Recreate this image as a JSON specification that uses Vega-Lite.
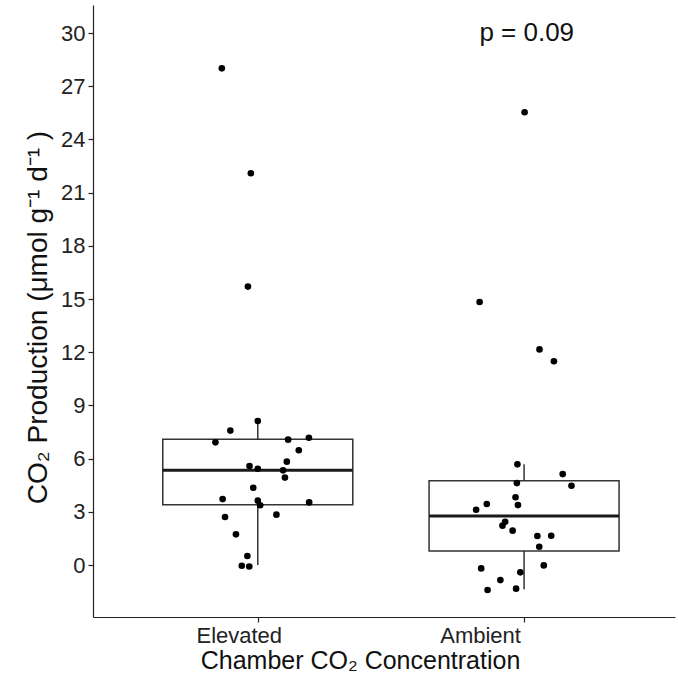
{
  "$schema": "https://vega.github.io/schema/vega-lite/v6.json",
  "width": 582,
  "height": 612,
  "autosize": "none",
  "padding": {"left": 93, "top": 5, "right": 3, "bottom": 61},
  "background": "white",
  "config": {
    "view": {"stroke": null},
    "font": "Liberation Sans",
    "axis": {
      "grid": false,
      "domainColor": "#222222",
      "domainWidth": 1.2,
      "tickColor": "#222222",
      "tickWidth": 1.2,
      "tickSize": 5,
      "labelColor": "#222222",
      "labelFont": "Liberation Sans",
      "labelFontSize": 22,
      "labelPadding": 3,
      "titleFont": "Liberation Sans",
      "titleFontSize": 25,
      "titleFontWeight": "normal",
      "titleColor": "#111111"
    }
  },
  "datasets": {
    "boxes": [
      {"group": "Elevated", "gx": 1, "lower": 0.0, "q1": 3.40, "median": 5.34, "q3": 7.10, "upper": 8.14},
      {"group": "Ambient", "gx": 2, "lower": -1.37, "q1": 0.79, "median": 2.76, "q3": 4.76, "upper": 5.68}
    ],
    "points": [
      {"group": "Elevated", "xj": 0.865, "co2": 28.01},
      {"group": "Elevated", "xj": 0.974, "co2": 22.09},
      {"group": "Elevated", "xj": 0.963, "co2": 15.70},
      {"group": "Elevated", "xj": 1.000, "co2": 8.12},
      {"group": "Elevated", "xj": 0.897, "co2": 7.58},
      {"group": "Elevated", "xj": 0.841, "co2": 6.92},
      {"group": "Elevated", "xj": 1.114, "co2": 7.07},
      {"group": "Elevated", "xj": 1.192, "co2": 7.18},
      {"group": "Elevated", "xj": 1.154, "co2": 6.47},
      {"group": "Elevated", "xj": 1.109, "co2": 5.83},
      {"group": "Elevated", "xj": 0.969, "co2": 5.58},
      {"group": "Elevated", "xj": 1.000, "co2": 5.43},
      {"group": "Elevated", "xj": 1.095, "co2": 5.34},
      {"group": "Elevated", "xj": 1.102, "co2": 4.93},
      {"group": "Elevated", "xj": 0.983, "co2": 4.36},
      {"group": "Elevated", "xj": 0.868, "co2": 3.72},
      {"group": "Elevated", "xj": 1.000, "co2": 3.63},
      {"group": "Elevated", "xj": 1.009, "co2": 3.37},
      {"group": "Elevated", "xj": 1.193, "co2": 3.53},
      {"group": "Elevated", "xj": 0.877, "co2": 2.71},
      {"group": "Elevated", "xj": 1.070, "co2": 2.84},
      {"group": "Elevated", "xj": 0.918, "co2": 1.73},
      {"group": "Elevated", "xj": 0.961, "co2": 0.51},
      {"group": "Elevated", "xj": 0.940, "co2": -0.04},
      {"group": "Elevated", "xj": 0.968, "co2": -0.08},
      {"group": "Ambient", "xj": 2.002, "co2": 25.53},
      {"group": "Ambient", "xj": 1.833, "co2": 14.83},
      {"group": "Ambient", "xj": 2.058, "co2": 12.16},
      {"group": "Ambient", "xj": 2.112, "co2": 11.49},
      {"group": "Ambient", "xj": 1.975, "co2": 5.68},
      {"group": "Ambient", "xj": 2.145, "co2": 5.13},
      {"group": "Ambient", "xj": 2.178, "co2": 4.47},
      {"group": "Ambient", "xj": 1.973, "co2": 4.62},
      {"group": "Ambient", "xj": 1.968, "co2": 3.82},
      {"group": "Ambient", "xj": 1.977, "co2": 3.38},
      {"group": "Ambient", "xj": 1.860, "co2": 3.44},
      {"group": "Ambient", "xj": 1.820, "co2": 3.12},
      {"group": "Ambient", "xj": 1.929, "co2": 2.44},
      {"group": "Ambient", "xj": 1.919, "co2": 2.22},
      {"group": "Ambient", "xj": 1.957, "co2": 1.94},
      {"group": "Ambient", "xj": 2.050, "co2": 1.64},
      {"group": "Ambient", "xj": 2.102, "co2": 1.65},
      {"group": "Ambient", "xj": 2.057, "co2": 1.03},
      {"group": "Ambient", "xj": 2.074, "co2": -0.02},
      {"group": "Ambient", "xj": 1.839, "co2": -0.19},
      {"group": "Ambient", "xj": 1.986, "co2": -0.41},
      {"group": "Ambient", "xj": 1.911, "co2": -0.85},
      {"group": "Ambient", "xj": 1.863, "co2": -1.41},
      {"group": "Ambient", "xj": 1.970, "co2": -1.33}
    ],
    "annot": [
      {"gx": 2.01, "y": 30, "label": "p = 0.09"}
    ]
  },
  "layer": [
    {
      "data": {"name": "boxes"},
      "mark": {"type": "rule", "color": "#333333", "strokeWidth": 1.5},
      "encoding": {
        "x": {
          "field": "gx", "type": "quantitative",
          "scale": {"domain": [0.4, 2.548], "nice": false, "zero": false},
          "axis": {
            "values": [1, 2],
            "labelExpr": "datum.value == 1 ? 'Elevated' : 'Ambient'",
            "labelOffset": {"condition": {"test": "datum.value == 1", "value": -19}, "value": -44},
            "title": "Chamber CO₂ Concentration",
            "titleX": 267,
            "titleAnchor": "start",
            "titleAlign": "center",
            "titlePadding": 2
          }
        },
        "y": {
          "field": "lower", "type": "quantitative",
          "scale": {"domain": [-2.93, 31.58], "nice": false, "zero": false},
          "axis": {
            "values": [0, 3, 6, 9, 12, 15, 18, 21, 24, 27, 30],
            "title": "CO₂ Production (μmol g⁻¹  d⁻¹ )",
            "titleFontSize": 28,
            "titleY": 312,
            "titlePadding": 8
          }
        },
        "y2": {"field": "upper"}
      }
    },
    {
      "data": {"name": "boxes"},
      "mark": {"type": "bar", "width": 190, "fill": "white", "stroke": "#333333", "strokeWidth": 1.5},
      "encoding": {
        "x": {"field": "gx", "type": "quantitative"},
        "y": {"field": "q1", "type": "quantitative"},
        "y2": {"field": "q3"}
      }
    },
    {
      "data": {"name": "boxes"},
      "mark": {"type": "tick", "orient": "horizontal", "size": 190, "thickness": 3, "color": "#1a1a1a", "opacity": 1},
      "encoding": {
        "x": {"field": "gx", "type": "quantitative"},
        "y": {"field": "median", "type": "quantitative"}
      }
    },
    {
      "data": {"name": "points"},
      "mark": {"type": "circle", "size": 44, "color": "black", "opacity": 1},
      "encoding": {
        "x": {"field": "xj", "type": "quantitative"},
        "y": {"field": "co2", "type": "quantitative"}
      }
    },
    {
      "data": {"name": "annot"},
      "mark": {"type": "text", "fontSize": 26, "font": "Liberation Sans", "color": "#111111", "baseline": "middle", "align": "center"},
      "encoding": {
        "x": {"field": "gx", "type": "quantitative"},
        "y": {"field": "y", "type": "quantitative"},
        "text": {"field": "label"}
      }
    }
  ]
}
